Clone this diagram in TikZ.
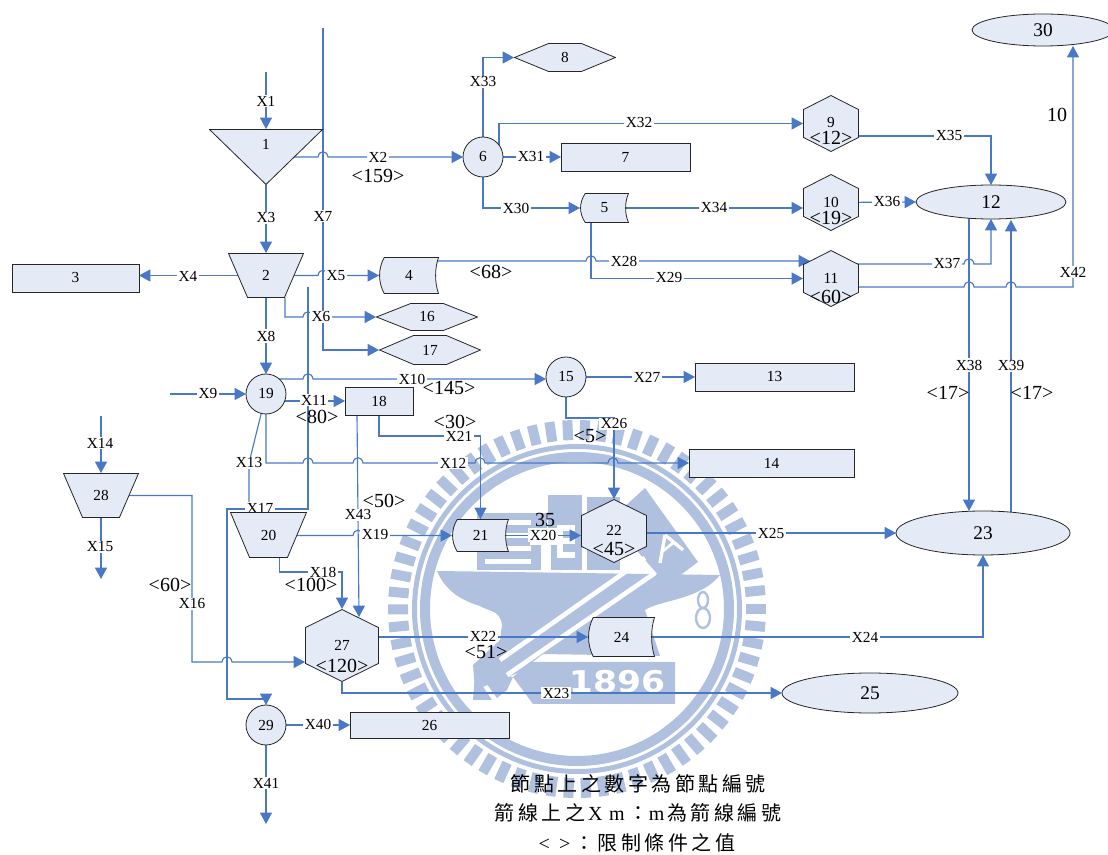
\documentclass[tikz,border=0pt]{standalone}
\usepackage{fontspec}
\setmainfont{Liberation Serif}
\newfontfamily\cjkfont[LetterSpace=17.5]{Noto Sans CJK TC}
\newfontfamily\sealfont{DejaVu Sans}
\usetikzlibrary{shapes.geometric,arrows.meta,calc}
\definecolor{nodefill}{HTML}{E4EBF6}
\definecolor{wireblue}{HTML}{4878C6}
\definecolor{sealblue}{HTML}{B0C0DF}
\pgfdeclarelayer{seal}
\pgfdeclarelayer{wires}
\pgfsetlayers{seal,wires,main}
\newcommand{\ppcorners}{%
	\coordinate (pnw) at ([shift={(.4pt,-.4pt)}]path picture bounding box.north west);
	\coordinate (pne) at ([shift={(-.4pt,-.4pt)}]path picture bounding box.north east);
	\coordinate (pse) at ([shift={(-.4pt,.4pt)}]path picture bounding box.south east);
	\coordinate (psw) at ([shift={(.4pt,.4pt)}]path picture bounding box.south west);}
\newcommand{\hop}[2]{-- (#1-5,#2) .. controls (#1-4,#2-7) and (#1+4,#2-7) .. (#1+5,#2)}
\tikzset{
	nodeline/.style={draw=black!85, line width=.6pt, fill=nodefill},
	figbase/.style={inner sep=0pt, outer sep=0pt, font=\fontsize{11.5}{13}\selectfont},
	boxnode/.style 2 args={figbase, nodeline, minimum width=#1*.75pt, minimum height=#2*.75pt},
	roundnode/.style={figbase, nodeline, circle, minimum size=30pt},
	ovalnode/.style 2 args={figbase, nodeline, ellipse, minimum width=#1*.75pt, minimum height=#2*.75pt, font=\fontsize{14.5}{16}\selectfont},
	hexv/.style n args={3}{figbase, minimum width=#1*.75pt, minimum height=#2*.75pt, path picture={\ppcorners
		\draw[nodeline] ($(pnw)!.5!(pne)$) -- ([yshift=-#3*.75pt]pne) -- ([yshift=#3*.75pt]pse) -- ($(pse)!.5!(psw)$) -- ([yshift=#3*.75pt]psw) -- ([yshift=-#3*.75pt]pnw) -- cycle;}},
	hexh/.style n args={3}{figbase, minimum width=#1*.75pt, minimum height=#2*.75pt, path picture={\ppcorners
		\draw[nodeline] ($(pnw)!.5!(psw)$) -- ([xshift=#3*.75pt]pnw) -- ([xshift=-#3*.75pt]pne) -- ($(pne)!.5!(pse)$) -- ([xshift=-#3*.75pt]pse) -- ([xshift=#3*.75pt]psw) -- cycle;}},
	trapnode/.style 2 args={figbase, minimum width=#1*.75pt, minimum height=#2*.75pt, path picture={\ppcorners
		\draw[nodeline] (pnw) -- (pne) -- ([xshift=-14.25pt]pse) -- ([xshift=14.25pt]psw) -- cycle;}},
	trinode/.style 2 args={figbase, minimum width=#1*.75pt, minimum height=#2*.75pt, path picture={\ppcorners
		\draw[nodeline] (pnw) -- (pne) -- ($(pse)!.5!(psw)$) -- cycle;}},
	docnode/.style 2 args={figbase, minimum width=#1*.75pt, minimum height=#2*.75pt, path picture={\ppcorners
		\draw[nodeline] ([xshift=3.5pt]pnw) -- (pne) .. controls ($(pne)!.3!(pse)+(-3.8,0)$) and ($(pne)!.7!(pse)+(-3.8,0)$) .. (pse) -- ([xshift=3.5pt]psw) .. controls ($(psw)!.3!(pnw)+(-1.5,0)$) and ($(psw)!.7!(pnw)+(-1.5,0)$) .. ([xshift=3.5pt]pnw) -- cycle;}},
	wire/.style={draw=wireblue, line width=.85pt, -{Triangle[length=8.5pt,width=9pt]}},
	xlab/.style={fill=white, inner sep=1pt, font=\fontsize{11.5}{13}\selectfont},
	limit/.style={inner sep=0pt, font=\fontsize{15}{17}\selectfont},
	footnote/.style={inner sep=0pt, font=\fontsize{15}{17}\cjkfont},
	sealpart/.style={fill=sealblue, draw=none},
	sealgap/.style={fill=white, draw=none}
}
\begin{document}
\begin{tikzpicture}[x=.75pt, y=-.75pt]
	\useasboundingbox (0,0) rectangle (1108,855);

	% school seal behind everything
	\begin{pgfonlayer}{seal}
		\foreach \a in {0,5.45,...,359}
			\draw[sealblue, line width=7.5pt] ([shift={(\a:169)}]577,609) -- ([shift={(\a:189)}]577,609);
		\draw[sealblue, line width=7.5pt] (577,609) circle (152);
		\draw[sealblue, line width=3.75pt] (577,609) circle (162.5);
		\fill[sealpart] (477,513) rectangle (547,570);
		\fill[sealpart] (548,495) rectangle (582,570);
		\fill[sealpart] (587,497) rectangle (620,570);
		\foreach \y in {520,533,546,559}
			\fill[sealgap] (485,\y) rectangle (531,\y+5);
		\fill[sealgap] (530,537) rectangle (557,545);
		\fill[sealgap] (541,545) rectangle (551,570);
		\fill[sealgap] (557,525) rectangle (563,558);
		\fill[sealgap] (557,525) rectangle (575,531);
		\fill[sealgap] (557,538) rectangle (575,544);
		\fill[sealgap] (557,552) rectangle (575,558);
		\fill[sealpart] (645,488) -- (698,562) -- (667,585) -- (610,520) -- cycle;
		\fill[sealpart] (437,571) -- (720,575) .. controls (700,600) and (660,600) .. (645,610) -- (660,656) -- (543,654) -- (520,672) -- (475,690) -- (473,665) -- (500,640) -- (502,625) .. controls (500,610) and (490,612) .. (480,606) .. controls (460,600) and (445,590) .. (437,571) -- cycle;
		\fill[sealpart] (475,675) -- (492,700) -- (473,700) -- cycle;
		\fill[sealpart] (478,672) -- (513,677) -- (507,690) -- (497,698) -- cycle;
		\draw[white, line width=3.5pt] (500,660) -- (645,558);
		\draw[white, line width=3.5pt] (507,675) -- (655,573);
		\draw[white, line width=2.5pt] (665,535) -- (660,563);
		\draw[white, line width=2.5pt] (665,535) -- (683,550);
		\draw[white, line width=2pt] (663,551) -- (673,543);
		\draw[sealblue, line width=1.8pt] (703,600) ellipse (5 and 8);
		\draw[sealblue, line width=1.8pt] (703,618) ellipse (7 and 10);
		\fill[sealpart] (530,662) -- (675,662) -- (675,704) -- (533,704) -- (513,677) -- cycle;
		\node[text=white, inner sep=0pt, xscale=1.15, font=\fontsize{22.5}{24}\sealfont\bfseries] (sealyear) at (617,682) {1896};
	\end{pgfonlayer}

	\node[xlab] (x17) at (260,508) {X17};

	\node[trinode={114}{56}] (n1) at (266,157) {\raisebox{5.5pt}[0pt][0pt]{1}};
	\node[trapnode={76}{45}] (n2) at (266,275.5) {2};
	\node[boxnode={127}{28}] (n3) at (75.5,278) {3};
	\node[docnode={60}{37}] (n4) at (409,275.5) {4};
	\node[docnode={49}{30}] (n5) at (604.5,208) {5};
	\node[roundnode] (n6) at (483,157) {6};
	\node[boxnode={129}{28}] (n7) at (625.5,157) {7};
	\node[hexh={102}{29}{34}] (n8) at (565,57.5) {8};
	\node[hexv={56}{57}{14}] (n9) at (831,123.5) {};
	\node[hexv={56}{57}{14}] (n10) at (831,202.5) {};
	\node[hexv={56}{57}{14}] (n11) at (831,278.5) {};
	\node[ovalnode={150}{34}] (n12) at (991,202) {12};
	\node[boxnode={159}{28}] (n13) at (774.5,377) {13};
	\node[boxnode={165}{28}] (n14) at (771.5,463) {14};
	\node[roundnode] (n15) at (566,377) {15};
	\node[hexh={102}{28}{34}] (n16) at (427,317) {16};
	\node[hexh={102}{30}{34}] (n17) at (430,350) {17};
	\node[boxnode={68}{28}] (n18) at (379,401) {18};
	\node[roundnode] (n19) at (266,394) {19};
	\node[trapnode={77}{46}] (n20) at (268.5,535) {20};
	\node[docnode={57}{33}] (n21) at (480.5,535.5) {21};
	\node[hexv={66}{64}{16}] (n22) at (614,531) {};
	\node[ovalnode={174}{44}] (n23) at (983,533) {23};
	\node[docnode={67}{40}] (n24) at (621.5,637) {24};
	\node[ovalnode={176}{40}] (n25) at (870,693) {25};
	\node[boxnode={159}{26}] (n26) at (429.5,725) {26};
	\node[hexv={74}{73}{18}] (n27) at (342,645.5) {};
	\node[trapnode={76}{45}] (n28) at (101,495.5) {28};
	\node[roundnode] (n29) at (266,725) {29};
	\node[ovalnode={142}{32}] (n30) at (1043,30) {30};

	% numbers of the hexagons
	\node[figbase] (t9) at (831,123) {9};
	\node[figbase] (t10) at (831,202) {10};
	\node[figbase] (t11) at (831,278) {11};
	\node[figbase] (t22) at (614,530) {22};
	\node[figbase] (t27) at (342,645) {27};

	\coordinate (x1start) at (266,72);
	\coordinate (x7start) at (323,28);
	\coordinate (x9start) at (170,394);
	\coordinate (x14start) at (101,416);
	\coordinate (x15end) at (101,579);
	\coordinate (x17start) at (308,287);
	\coordinate (x41end) at (266,824);

	\begin{pgfonlayer}{wires}
		\draw[wire] (x1start) -- (n1.north);
		\draw[wire] (n1.center) \hop{323}{157} -- (n6.west);
		\draw[wire] (n1.south) -- (n2.north);
		\draw[wire] (n2.center) -- (n3.east |- n2.center);
		\draw[wire] (n2.center) \hop{323}{275.5} -- (n4.west);
		\draw[wire] ($(n2.south)+(19,0)$) -- ++(0,19) \hop{308}{317} -- (n16.west);
		\draw[wire] (x7start) |- (n17.west);
		\draw[wire] (n2.south) -- (n19.north);
		\draw[wire] (x9start) -- (n19.west);
		\draw[wire] ($(n19.center)+(0,-15)$) \hop{308}{379} -- ($(n15.west)+(0,2)$);
		\draw[wire] (n19.center |- n18.west) -- (n18.west);
		\draw[wire] (n19.center) -- (266,463) \hop{308}{463} \hop{358}{463} \hop{480}{463} \hop{613}{463} -- (n14.west);
		\draw[wire,-] (n19.center) -- (249,463) |- (n20.north);
		\draw[wire] (x14start) -- (n28.north);
		\draw[wire] (n28.south) -- (x15end);
		\draw[wire] (n28.center) -- (192,495.5) -- (192,662) \hop{227}{662} -- ($(n27.west)+(0,16.5)$);
		\draw[wire] (x17start) |- (227,509) -- (227,699) -| (n29.north);
		\draw[wire] ($(n20.south)+(11,0)$) -- ++(0,14) -| (n27.north);
		\draw[wire] (n20.center |- n21.west) \hop{358}{535.5} -- (n21.west);
		\draw[wire] (n21.center) -- (n22.west |- n21.center);
		\draw[wire] (n18.south) -- ++(0,21) -| (n21.north);
		\draw[wire] (n27.center |- n24.west) -- (n24.west);
		\draw[wire] (n27.south) |- (n25.west);
		\draw[wire] (n24.center) -| (n23.south);
		\draw[wire] (n22.center |- n23.west) -- (n23.west);
		\draw[wire] (n15.south) -- ++(0,21) -| (n22.north);
		\draw[wire] (n15.center) -- (n13.west);
		\draw[wire] ($(n4.center)+(0,-14.5)$) \hop{591}{261} -- ($(n11.west)+(7,-17.5)$);
		\draw[wire] ($(n5.south)+(-13.5,0)$) |- (n11.west);
		\draw[wire] (n6.center) |- (n5.west);
		\draw[wire] (n6.center) -- (n7.west);
		\draw[wire] ($(n6.center)+(16,0)$) |- (n9.west);
		\draw[wire] (n6.center) |- (n8.west);
		\draw[wire] (n5.center) -- ($(n10.west)+(0,5.5)$);
		\draw[wire] ($(n9.center)+(0,12.5)$) -| (n12.north);
		\draw[wire] (n10.center) -- (n12.west);
		\draw[wire] ($(n11.center)+(0,-14.5)$) \hop{969}{264} -| (n12.south);
		\draw[wire] ($(n12.center)+(-22,0)$) -- ($(n23.center)+(-14,-22)$);
		\draw[wire] ($(n23.center)+(28,0)$) -- ($(n12.center)+(20,18)$);
		\draw[wire] (n29.center) -- (n26.west);
		\draw[wire] (n29.center) -- (x41end);
		\draw[wire] ($(n11.center)+(0,8.5)$) \hop{969}{287} \hop{1011}{287} -| ($(n30.south)+(30,0)$);
		\draw[wire] ($(n18.south)+(-22,0)$) -- ($(n27.center)+(17,-28.5)$);
	\end{pgfonlayer}

	\node[xlab] (x1) at (266,101) {X1};
	\node[xlab] (x2) at (378,157) {X2};
	\node[xlab] (x3) at (266,218) {X3};
	\node[xlab] (x4) at (188,276) {X4};
	\node[xlab] (x5) at (336,276) {X5};
	\node[xlab] (x6) at (321,317) {X6};
	\node[xlab] (x7) at (323,216) {X7};
	\node[xlab] (x8) at (266,336) {X8};
	\node[xlab] (x9) at (208,394) {X9};
	\node[xlab] (x10) at (412,379) {X10};
	\node[xlab] (x11) at (314,400) {X11};
	\node[xlab] (x12) at (453,463) {X12};
	\node[xlab] (x13) at (249,463) {X13};
	\node[xlab] (x14) at (100,443) {X14};
	\node[xlab] (x15) at (100,547) {X15};
	\node[xlab] (x16) at (192,604) {X16};
	\node[xlab] (x18) at (323,572) {X18};
	\node[xlab] (x19) at (375,535) {X19};
	\node[xlab] (x20) at (543,535) {X20};
	\node[xlab] (x21) at (459,436) {X21};
	\node[xlab] (x22) at (483,636) {X22};
	\node[xlab] (x23) at (556,693) {X23};
	\node[xlab] (x24) at (865,637) {X24};
	\node[xlab] (x25) at (771,533) {X25};
	\node[xlab] (x26) at (614,424) {X26};
	\node[xlab] (x27) at (647,377) {X27};
	\node[xlab] (x28) at (624,261) {X28};
	\node[xlab] (x29) at (669,278) {X29};
	\node[xlab] (x30) at (516,208) {X30};
	\node[xlab] (x31) at (531,157) {X31};
	\node[xlab] (x32) at (639,123) {X32};
	\node[xlab] (x33) at (483,82) {X33};
	\node[xlab] (x34) at (714,208) {X34};
	\node[xlab] (x35) at (949,136) {X35};
	\node[xlab] (x36) at (887,202) {X36};
	\node[xlab] (x37) at (947,264) {X37};
	\node[xlab] (x38) at (969,365) {X38};
	\node[xlab] (x39) at (1011,366) {X39};
	\node[xlab] (x40) at (318,724) {X40};
	\node[xlab] (x41) at (266,783) {X41};
	\node[xlab] (x42) at (1073,272) {X42};
	\node[xlab] (x43) at (358,515) {X43};

	\node[limit] (l159) at (378,176) {<159>};
	\node[limit] (l68) at (491,272) {<68>};
	\node[limit] (l12) at (831,138) {<12>};
	\node[limit] (l19) at (831,218) {<19>};
	\node[limit] (l60a) at (831,297) {<60>};
	\node[limit] (l145) at (449,388) {<145>};
	\node[limit] (l80) at (317,417) {<80>};
	\node[limit] (l30) at (455,422) {<30>};
	\node[limit] (l5) at (590,436) {<5>};
	\node[limit] (l50) at (384,501) {<50>};
	\node[limit] (l45) at (614,549) {<45>};
	\node[limit] (l60b) at (170,585) {<60>};
	\node[limit] (l100) at (311,585) {<100>};
	\node[limit] (l120) at (342,666) {<120>};
	\node[limit] (l51) at (486,652) {<51>};
	\node[limit] (l17a) at (948,393) {<17>};
	\node[limit] (l17b) at (1032,393) {<17>};
	\node[limit] (free35) at (545,520) {35};
	\node[limit] (free10) at (1057,115) {10};

	\node[footnote] (foot1) at (638,784) {節點上之數字為節點編號};
	\node[footnote] (foot2) at (638,813) {箭線上之\hspace{2pt}{\rmfamily X\hspace{5pt}m}\hspace{3pt}：{\rmfamily m}\hspace{2pt}為箭線編號};
	\node[footnote] (foot3) at (637,843) {{\rmfamily <\hspace{7pt}>}\hspace{3pt}：限制條件之值};
\end{tikzpicture}
\end{document}
